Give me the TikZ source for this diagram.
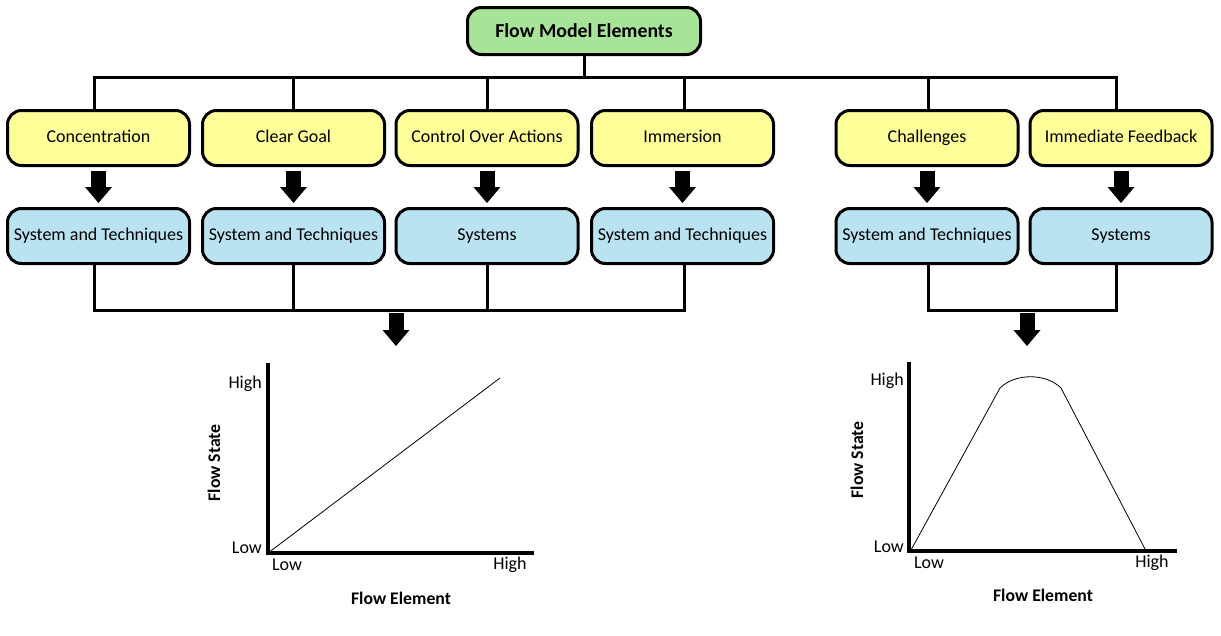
\documentclass[tikz,border=0pt]{standalone}
\usepackage{fontspec}
\setmainfont{Carlito}
\usetikzlibrary{arrows.meta}

\definecolor{flowgreen}{RGB}{168,228,152}
\definecolor{flowyellow}{RGB}{255,255,153}
\definecolor{flowblue}{RGB}{185,227,240}

\begin{document}
\begin{tikzpicture}[x=1pt,y=-1pt,
  every node/.style={font=\fontsize{18}{21}\selectfont},
  elem/.style={draw,line width=3pt,rounded corners=14pt,fill=flowyellow,
    minimum width=182pt,minimum height=55pt,inner sep=0pt,text height=12pt,text depth=4pt},
  tech/.style={elem,fill=flowblue},
  conn/.style={line width=3pt},
  bigarrow/.style={line width=15pt,-{Triangle[width=27pt,length=16pt,line width=0pt]}},
  axis/.style={line width=3.5pt},
  curve/.style={line width=0.8pt},
  tick/.style={inner sep=0pt},
  lbl/.style={inner sep=0pt,font=\fontsize{17.7}{21}\selectfont\bfseries}]
\useasboundingbox (0,0) rectangle (1221,635);

\node[elem,fill=flowgreen,minimum width=233pt,minimum height=47pt,text height=14pt,text depth=2pt,
  font=\fontsize{19.8}{23}\selectfont\bfseries] (title) at (584,31) {Flow Model Elements};

\node[elem] (conc) at (98.5,138) {Concentration};
\node[elem] (goal) at (293.5,138) {Clear Goal};
\node[elem] (ctrl) at (487,138) {Control Over Actions};
\node[elem] (imm) at (682.5,138) {Immersion};
\node[elem] (chal) at (927,138) {Challenges};
\node[elem] (feed) at (1121,138) {Immediate Feedback};

\node[tech] (conc2) at (98.5,236) {System and Techniques};
\node[tech] (goal2) at (293.5,236) {System and Techniques};
\node[tech] (ctrl2) at (487,236) {Systems};
\node[tech] (imm2) at (682.5,236) {System and Techniques};
\node[tech] (chal2) at (927,236) {System and Techniques};
\node[tech] (feed2) at (1121,236) {Systems};

\coordinate (topbus) at (583,77);
\coordinate (leftbus) at (396,310);
\coordinate (rightbus) at (1027,310);
\coordinate (lplot) at (396,346);
\coordinate (rplot) at (1027,346);

\draw[conn] (title.south) -- (title.south |- topbus);
\draw[conn] ([xshift=-4.5pt]conc.north) |- ([xshift=-5pt]feed.north |- topbus) -- ([xshift=-5pt]feed.north);
\draw[conn] (goal.north) -- (goal.north |- topbus);
\draw[conn] (ctrl.north) -- (ctrl.north |- topbus);
\draw[conn] ([xshift=1.5pt]imm.north) -- ([xshift=1.5pt]imm.north |- topbus);
\draw[conn] ([xshift=1pt]chal.north) -- ([xshift=1pt]chal.north |- topbus);

\draw[conn] ([xshift=-4.5pt]conc2.south) |- ([xshift=1.5pt]imm2.south |- leftbus) -- ([xshift=1.5pt]imm2.south);
\draw[conn] (goal2.south) -- (goal2.south |- leftbus);
\draw[conn] (ctrl2.south) -- (ctrl2.south |- leftbus);
\draw[conn] ([xshift=1pt]chal2.south) |- ([xshift=-5pt]feed2.south |- rightbus) -- ([xshift=-5pt]feed2.south);

\foreach \a/\b in {conc/conc2,goal/goal2,ctrl/ctrl2,imm/imm2,chal/chal2,feed/feed2}
  \draw[bigarrow] ([yshift=-4pt]\a.south) -- ([yshift=4pt]\b.north);
\draw[bigarrow] ([yshift=-3pt]leftbus) -- (lplot);
\draw[bigarrow] ([yshift=-3pt]rightbus) -- (rplot);

\coordinate (o1) at (268,553);
\draw[axis] (268,363) -- (o1) -- (534,553);
\draw[curve] (o1) -- (500,378);
\node[tick,anchor=east] (hi1) at (262,384) {High};
\node[tick,anchor=east] (lo1) at (262,548) {Low};
\node (lo1x) at (287,565) {Low};
\node (hi1x) at (510,565) {High};
\node[lbl,rotate=90] (fs1) at (214,463) {Flow State};
\node[lbl] (fe1) at (401,598) {Flow Element};

\coordinate (o2) at (909,551);
\draw[axis] (909,362) -- (o2) -- (1177,551);
\draw[curve] (911,550) -- (1000,388) .. controls (1015,373) and (1046,373) .. (1061,388) -- (1145,549);
\node[tick,anchor=east] (hi2) at (904,381) {High};
\node[tick,anchor=east] (lo2) at (904,547) {Low};
\node (lo2x) at (929,563) {Low};
\node (hi2x) at (1152,563) {High};
\node[lbl,rotate=90] (fs2) at (857,460) {Flow State};
\node[lbl] (fe2) at (1043,595) {Flow Element};
\end{tikzpicture}
\end{document}
